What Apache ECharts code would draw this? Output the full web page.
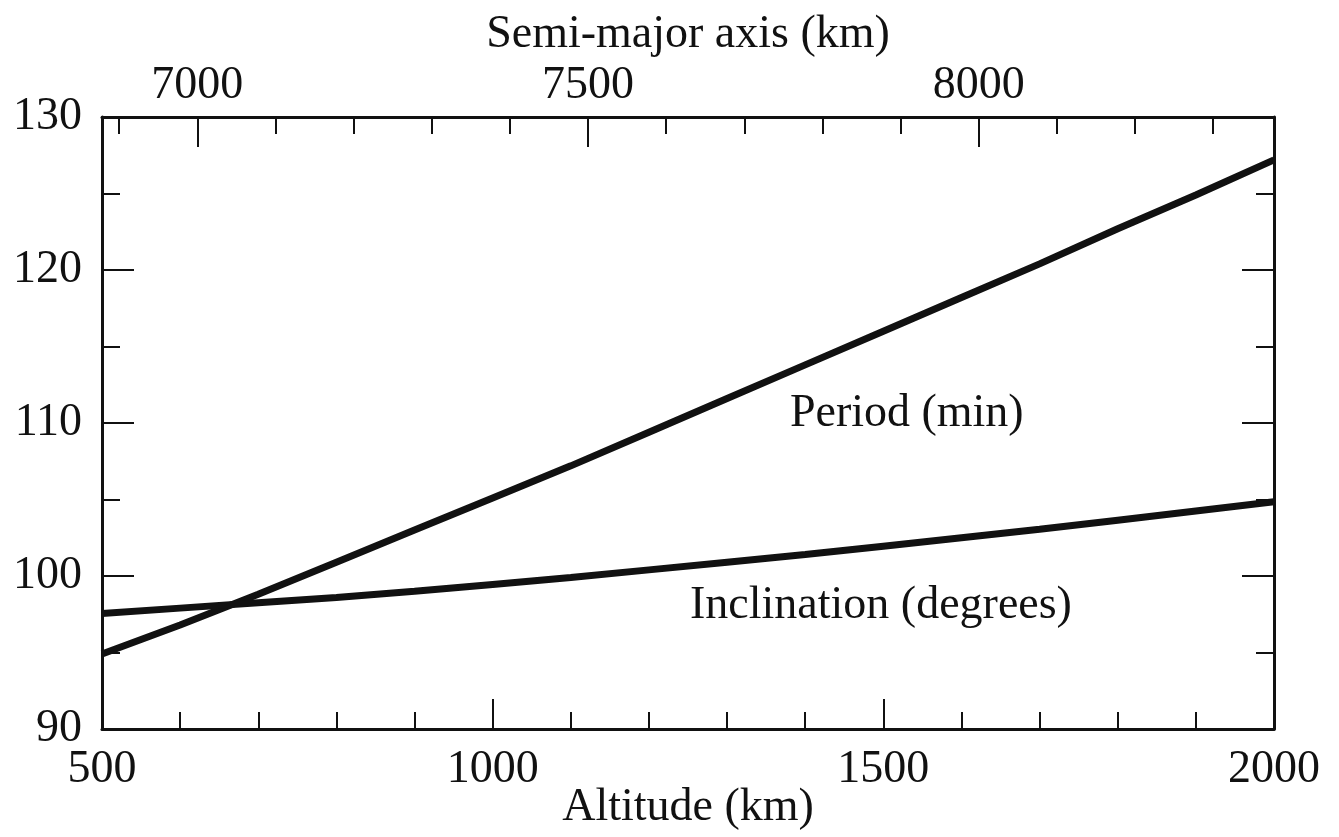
<!DOCTYPE html>
<html>
<head>
<meta charset="utf-8">
<script src="https://cdn.jsdelivr.net/npm/echarts@6/dist/echarts.min.js"></script>
<style>
  html, body { margin: 0; padding: 0; background: #fff; }
  #chart { width: 1339px; height: 837px; }
</style>
</head>
<body>
<div id="chart"></div>
<script>
// ---- data ----
const altitude = [500, 600, 700, 800, 900, 1000, 1100, 1200, 1300, 1400, 1500, 1600, 1700, 1800, 1900, 2000];
const period = [94.9, 96.8, 98.8, 100.9, 103.0, 105.1, 107.2, 109.4, 111.6, 113.8, 116.0, 118.2, 120.4, 122.7, 124.9, 127.2];
const inclination = [97.55, 97.9, 98.25, 98.6, 99.0, 99.45, 99.9, 100.4, 100.9, 101.4, 101.95, 102.5, 103.05, 103.65, 104.25, 104.85];

const earthRadius = 6378;
const semiMajorLabels = [7000, 7500, 8000];
const semiMajorMinor = [6900, 7100, 7200, 7300, 7400, 7600, 7700, 7800, 7900, 8100, 8200, 8300];

const annotationTexts = ['Period (min)', 'Inclination (degrees)'];
const annotationAlt = [1530, 1497];
const annotationVal = [110.6, 98.05];

// ---- chart ----
const FONT = '"Liberation Serif", "DejaVu Serif", serif';
const INK = '#111';
const FS = 46;
const chart = echarts.init(document.getElementById('chart'), null, { renderer: 'canvas' });

const altMin = altitude[0], altMax = altitude[altitude.length - 1];
const plain = v => String(v);

function pairs(xs, ys) { return xs.map((x, i) => [x, ys[i]]); }

const option = {
  backgroundColor: '#fff',
  animation: false,
  grid: { left: 102, right: 65, top: 117, bottom: 108, containLabel: false, outerBoundsMode: 'none' },
  xAxis: [
    {
      type: 'value', position: 'bottom', min: altMin, max: altMax, interval: 500,
      name: 'Altitude (km)', nameLocation: 'middle', nameGap: 56, nameMoveOverlap: false,
      nameTextStyle: { fontFamily: FONT, fontSize: FS, color: INK },
      axisLine: { show: true, lineStyle: { color: INK, width: 3 } },
      axisTick: { show: true, inside: true, length: 30, lineStyle: { color: INK, width: 2 } },
      minorTick: { show: true, splitNumber: 5, length: 17, lineStyle: { color: INK, width: 2 } },
      axisLabel: { fontFamily: FONT, fontSize: FS, color: INK, margin: 18, formatter: plain },
      splitLine: { show: false }, minorSplitLine: { show: false }
    },
    {
      type: 'value', position: 'top', min: altMin + earthRadius, max: altMax + earthRadius,
      name: 'Semi-major axis (km)', nameLocation: 'middle', nameGap: 58,
      nameTextStyle: { fontFamily: FONT, fontSize: FS, color: INK },
      axisLine: { show: true, lineStyle: { color: INK, width: 3 } },
      axisTick: { show: true, inside: true, length: 30, customValues: semiMajorLabels, lineStyle: { color: INK, width: 2 } },
      axisLabel: { show: true, customValues: semiMajorLabels, fontFamily: FONT, fontSize: FS, color: INK, margin: 8, formatter: plain },
      splitLine: { show: false }
    },
    {
      type: 'value', position: 'top', min: altMin + earthRadius, max: altMax + earthRadius,
      axisLine: { show: false },
      axisTick: { show: true, inside: true, length: 17, customValues: semiMajorMinor, lineStyle: { color: INK, width: 2 } },
      axisLabel: { show: false },
      splitLine: { show: false }
    }
  ],
  yAxis: [
    {
      type: 'value', position: 'left', min: 90, max: 130, interval: 10,
      axisLine: { show: true, lineStyle: { color: INK, width: 3 } },
      axisTick: { show: true, inside: true, length: 32, lineStyle: { color: INK, width: 2 } },
      minorTick: { show: true, splitNumber: 2, length: 18, lineStyle: { color: INK, width: 2 } },
      axisLabel: { fontFamily: FONT, fontSize: FS, color: INK, margin: 20, padding: [5, 0, 0, 0], formatter: plain },
      splitLine: { show: false }, minorSplitLine: { show: false }
    },
    {
      type: 'value', position: 'right', min: 90, max: 130, interval: 10,
      axisLine: { show: true, lineStyle: { color: INK, width: 3 } },
      axisTick: { show: true, inside: true, length: 32, lineStyle: { color: INK, width: 2 } },
      minorTick: { show: true, splitNumber: 2, length: 18, lineStyle: { color: INK, width: 2 } },
      axisLabel: { show: false },
      splitLine: { show: false }, minorSplitLine: { show: false }
    }
  ],
  series: [
    {
      name: 'Period (min)', type: 'line', xAxisIndex: 0, yAxisIndex: 0,
      data: pairs(altitude, period), showSymbol: false, smooth: false,
      lineStyle: { color: INK, width: 7 }, z: 5,
      markPoint: {
        symbol: 'circle', symbolSize: 0, silent: true,
        label: { show: true, position: 'inside', fontFamily: FONT, fontSize: FS, color: INK, formatter: p => p.name },
        data: [{ name: annotationTexts[0], coord: [annotationAlt[0], annotationVal[0]] }]
      }
    },
    {
      name: 'Inclination (degrees)', type: 'line', xAxisIndex: 0, yAxisIndex: 0,
      data: pairs(altitude, inclination), showSymbol: false, smooth: false,
      lineStyle: { color: INK, width: 7 }, z: 5,
      markPoint: {
        symbol: 'circle', symbolSize: 0, silent: true,
        label: { show: true, position: 'inside', fontFamily: FONT, fontSize: FS, color: INK, formatter: p => p.name },
        data: [{ name: annotationTexts[1], coord: [annotationAlt[1], annotationVal[1]] }]
      }
    }
  ]
};
chart.setOption(option);
</script>
</body>
</html>
